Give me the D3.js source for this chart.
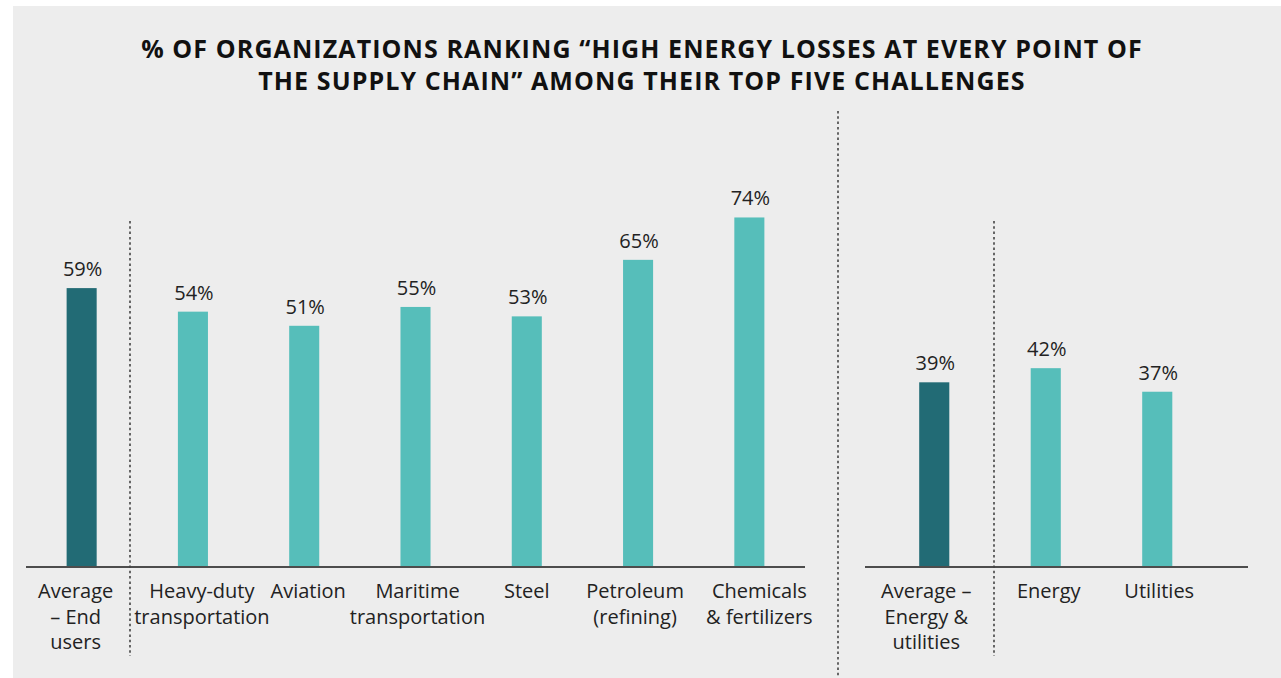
<!DOCTYPE html>
<html>
<head>
<meta charset="utf-8">
<title>High energy losses ranking</title>
<script src="https://d3js.org/d3.v7.min.js"></script>
<style>
  body { margin: 0; background: #fff; }
  text { font-family: "Open Sans", "Noto Sans", sans-serif; }
</style>
</head>
<body>
<div id="chart"></div>
<script>
// data
var endUserCats = ["Average – End users", "Heavy-duty transportation", "Aviation", "Maritime transportation",
                   "Steel", "Petroleum (refining)", "Chemicals & fertilizers"];
var endUserVals = [59, 54, 51, 55, 53, 65, 74];
var endUserLines = [["Average", "– End", "users"], ["Heavy-duty", "transportation"], ["Aviation"],
                    ["Maritime", "transportation"], ["Steel"], ["Petroleum", "(refining)"], ["Chemicals", "& fertilizers"]];

var energyCats = ["Average – Energy & utilities", "Energy", "Utilities"];
var energyVals = [39, 42, 37];
var energyLines = [["Average –", "Energy &", "utilities"], ["Energy"], ["Utilities"]];

var titleLines = ["% OF ORGANIZATIONS RANKING “HIGH ENERGY LOSSES AT EVERY POINT OF",
                  "THE SUPPLY CHAIN” AMONG THEIR TOP FIVE CHALLENGES"];

// labels are not exactly centred under the bars in the original
var endUserShift = [-6, 9, 4, 2, 0, -3, 10];
var energyShift = [-8, 3, 2];

var W = 1281, H = 678;
var baseY = 566;
var darkTeal = "#226b75", lightTeal = "#56beba";

var svg = d3.select("#chart").append("svg")
    .attr("width", W)
    .attr("height", H);

// grey panel
svg.append("rect")
    .attr("x", 13).attr("y", 6)
    .attr("width", W - 13).attr("height", H - 6)
    .attr("fill", "#ededed");

// title
svg.append("text")
    .attr("x", 642).attr("y", 58)
    .attr("text-anchor", "middle")
    .style("font-size", "25px")
    .style("font-weight", 700)
    .style("letter-spacing", "1.1px")
    .attr("fill", "#111")
    .selectAll("tspan")
    .data(titleLines)
    .enter().append("tspan")
      .attr("x", 642)
      .attr("dy", function(d, i) { return i ? 32 : 0; })
      .text(function(d) { return d; });

var y = d3.scaleLinear().domain([0, 100]).range([baseY, baseY - 471]);

function drawGroup(cats, vals, lines, shift, range, lineRange) {
    var x = d3.scaleBand()
        .domain(cats)
        .range(range)
        .paddingInner(0.73)
        .paddingOuter(0.365);

    var g = svg.append("g");

    g.selectAll(".bar")
        .data(cats)
        .enter().append("rect")
          .attr("class", "bar")
          .attr("x", function(d) { return x(d); })
          .attr("width", x.bandwidth())
          .attr("y", function(d, i) { return y(vals[i]); })
          .attr("height", function(d, i) { return baseY - y(vals[i]); })
          .attr("fill", function(d, i) { return i === 0 ? darkTeal : lightTeal; });

    // baseline
    g.append("line")
        .attr("x1", lineRange[0]).attr("x2", lineRange[1])
        .attr("y1", baseY + 1).attr("y2", baseY + 1)
        .attr("stroke", "#4d4d4d")
        .attr("stroke-width", 2);

    g.selectAll(".val")
        .data(cats)
        .enter().append("text")
          .attr("class", "val")
          .attr("x", function(d) { return x(d) + x.bandwidth() / 2 + 1; })
          .attr("y", function(d, i) { return y(vals[i]) - 12; })
          .attr("text-anchor", "middle")
          .style("font-size", "20px")
          .attr("fill", "#222")
          .text(function(d, i) { return vals[i] + "%"; });

    var lbl = g.selectAll(".cat")
        .data(cats)
        .enter().append("text")
          .attr("class", "cat")
          .attr("text-anchor", "middle")
          .attr("y", 598)
          .style("font-size", "20px")
          .attr("fill", "#222");

    lbl.each(function(d, i) {
        var cx = x(d) + x.bandwidth() / 2 + shift[i];
        d3.select(this).selectAll("tspan")
            .data(lines[i])
            .enter().append("tspan")
              .attr("x", cx)
              .attr("dy", function(t, j) { return j ? 25.5 : 0; })
              .text(function(t) { return t; });
    });
}

drawGroup(endUserCats, endUserVals, endUserLines, endUserShift, [26, 805], [26, 805]);
drawGroup(energyCats, energyVals, energyLines, energyShift, [878.5, 1213], [865, 1248]);

// dotted separators
var seps = [[130, 221, 656], [838, 111, 678], [994, 221, 656]];
svg.selectAll(".sep")
    .data(seps)
    .enter().append("line")
      .attr("class", "sep")
      .attr("x1", function(d) { return d[0]; })
      .attr("x2", function(d) { return d[0]; })
      .attr("y1", function(d) { return d[1]; })
      .attr("y2", function(d) { return d[2]; })
      .attr("stroke", "#444")
      .attr("stroke-width", 1.6)
      .attr("stroke-dasharray", "2.5,2.8");
</script>
</body>
</html>
